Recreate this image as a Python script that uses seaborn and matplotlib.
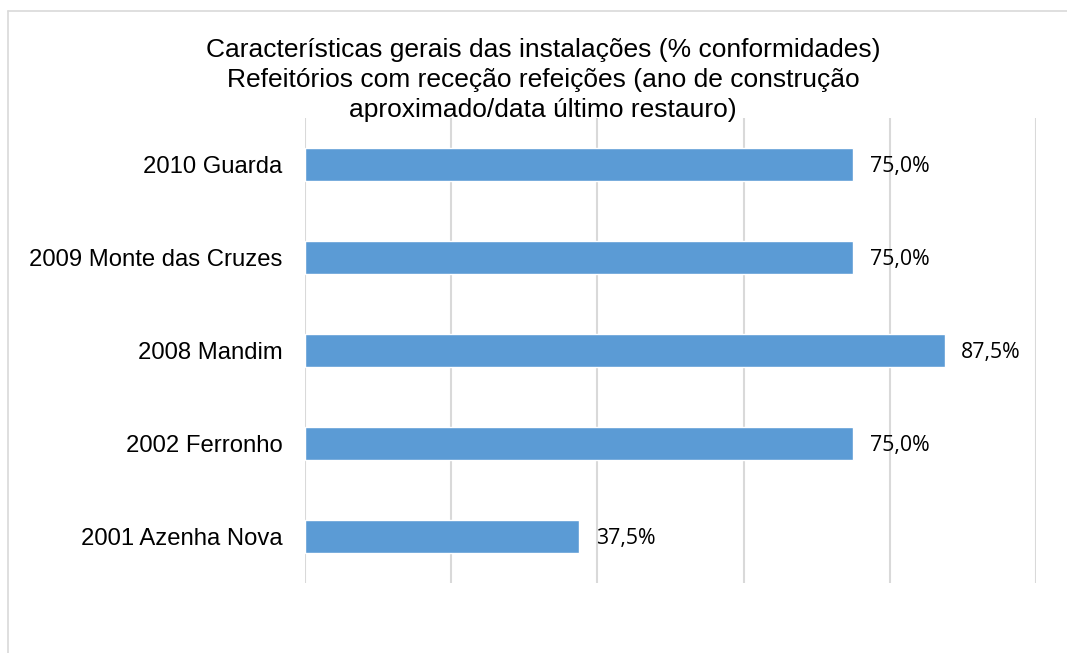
import pandas as pd
import seaborn as sns
import matplotlib.pyplot as plt
from matplotlib.lines import Line2D

# data
locais = ['2010 Guarda', '2009 Monte das Cruzes', '2008 Mandim',
          '2002 Ferronho', '2001 Azenha Nova']
conformidades = [75.0, 75.0, 87.5, 75.0, 37.5]
titulo = ('Características gerais das instalações (% conformidades)\n'
          'Refeitórios com receção refeições (ano de construção\n'
          'aproximado/data último restauro)')

data = pd.DataFrame({'local': locais, 'pct': conformidades})

sns.set_theme(style='white')
plt.rcParams['font.family'] = ['Liberation Sans', 'DejaVu Sans']

fig = plt.figure(figsize=(10.67, 6.53), dpi=100)
ax = fig.add_axes([0.2858, 0.1072, 0.6851, 0.712])

sns.barplot(data=data, x='pct', y='local', orient='h', color='#5B9BD5',
            saturation=1, width=0.355, ax=ax)

ax.set_xlim(0, 100)
ax.set_xticks([0, 20, 40, 60, 80, 100])
ax.set_xticklabels([])
ax.tick_params(axis='both', length=0)
ax.tick_params(axis='y', pad=16, labelsize=17.2, labelcolor='black')
ax.grid(axis='x', color='#D9D9D9', linewidth=1.5)
ax.grid(axis='y', visible=False)
ax.set_axisbelow(True)
for s in ax.spines.values():
    s.set_visible(False)
ax.set_xlabel('')
ax.set_ylabel('')

# value labels
for i, v in enumerate(conformidades):
    ax.annotate(f'{v:.1f}%'.replace('.', ','), xy=(v, i), xytext=(12, -1.5),
                textcoords='offset points', va='center', ha='left',
                fontsize=15.3, family=['Open Sans', 'DejaVu Sans'], color='black')

fig.text(0.509, 0.942, titulo, ha='center', va='top', fontsize=19,
         linespacing=1.32, color='black')

# chart area border (left and top edges visible)
fig.add_artist(Line2D([8 / 1067, 8 / 1067], [0, 1 - 11 / 653], color='#D9D9D9',
                      linewidth=1.2, transform=fig.transFigure))
fig.add_artist(Line2D([8 / 1067, 1], [1 - 11 / 653, 1 - 11 / 653], color='#D9D9D9',
                      linewidth=1.2, transform=fig.transFigure))

fig.savefig('out.png', dpi=100, facecolor='white')
